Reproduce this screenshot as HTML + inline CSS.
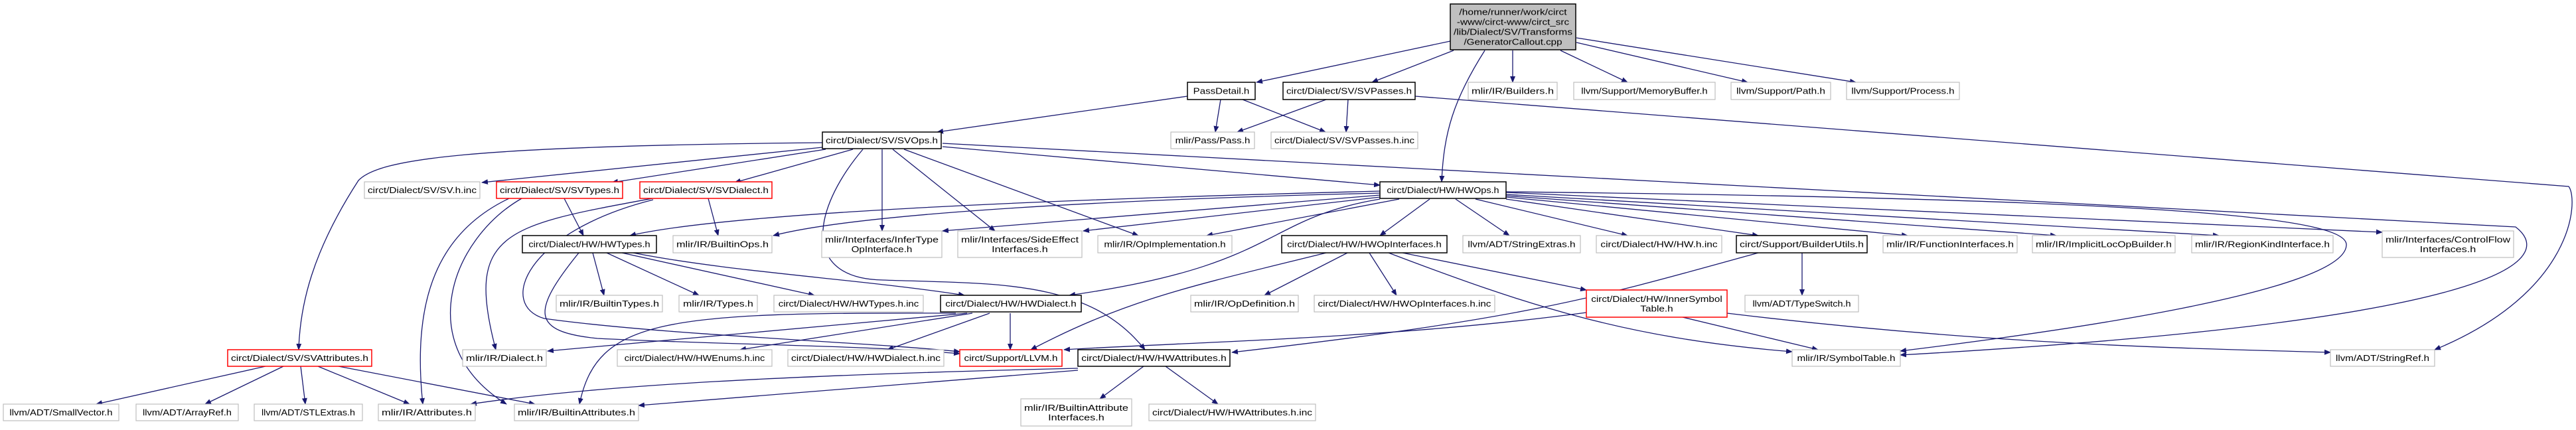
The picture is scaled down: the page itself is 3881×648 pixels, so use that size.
<!DOCTYPE html>
<html><head><meta charset="utf-8"><style>
html,body{margin:0;padding:0;background:#fff;}
svg{display:block;}
text{font-family:"Liberation Sans",sans-serif;font-size:13px;fill:#000;}
</style></head><body>
<svg id="g" width="3881" height="648" viewBox="0 0 3881 648" xmlns="http://www.w3.org/2000/svg">
<defs><marker id="ah" markerWidth="10" markerHeight="8" refX="9" refY="4" orient="auto" markerUnits="userSpaceOnUse"><path d="M0,0 L10,4 L0,8 Z" fill="#191970"/></marker></defs>
<g id="edges"></g>
<g id="nodes"></g>
</svg>
<script>
// nodes: id, label lines, x1, x2, y1, y2, style
const nodes = [
["root",["/home/runner/work/circt","-www/circt-www/circt_src","/lib/Dialect/SV/Transforms","/GeneratorCallout.cpp"],2185,2374,6,75,"root"],
["passdetail",["PassDetail.h"],1789,1891,124,150,"doc"],
["svpasses",["circt/Dialect/SV/SVPasses.h"],1933,2132,124,150,"doc"],
["builders",["mlir/IR/Builders.h"],2212,2346,124,150,"leaf"],
["memorybuffer",["llvm/Support/MemoryBuffer.h"],2371,2584,124,150,"leaf"],
["path",["llvm/Support/Path.h"],2608,2758,124,150,"leaf"],
["process",["llvm/Support/Process.h"],2782,2952,124,150,"leaf"],
["svops",["circt/Dialect/SV/SVOps.h"],1239,1418,199,224,"doc"],
["pass",["mlir/Pass/Pass.h"],1764,1890,199,224,"leaf"],
["svpassesinc",["circt/Dialect/SV/SVPasses.h.inc"],1915,2136,199,224,"leaf"],
["svhinc",["circt/Dialect/SV/SV.h.inc"],549,723,274,299,"leaf"],
["svtypes",["circt/Dialect/SV/SVTypes.h"],748,938,274,299,"red"],
["svdialect",["circt/Dialect/SV/SVDialect.h"],964,1163,274,299,"red"],
["hwops",["circt/Dialect/HW/HWOps.h"],2079,2269,274,299,"doc"],
["hwtypes",["circt/Dialect/HW/HWTypes.h"],787,989,355,381,"doc"],
["builtinops",["mlir/IR/BuiltinOps.h"],1014,1163,355,381,"leaf"],
["infertype",["mlir/Interfaces/InferType","OpInterface.h"],1238,1419,348,388,"leaf"],
["sideeffect",["mlir/Interfaces/SideEffect","Interfaces.h"],1443,1630,348,388,"leaf"],
["opimpl",["mlir/IR/OpImplementation.h"],1654,1856,355,381,"leaf"],
["hwopinterfaces",["circt/Dialect/HW/HWOpInterfaces.h"],1931,2180,355,381,"doc"],
["stringextras",["llvm/ADT/StringExtras.h"],2204,2381,355,381,"leaf"],
["hwhinc",["circt/Dialect/HW/HW.h.inc"],2405,2594,355,381,"leaf"],
["builderutils",["circt/Support/BuilderUtils.h"],2616,2813,355,381,"doc"],
["funcinterfaces",["mlir/IR/FunctionInterfaces.h"],2837,3039,355,381,"leaf"],
["implicitloc",["mlir/IR/ImplicitLocOpBuilder.h"],3062,3277,355,381,"leaf"],
["regionkind",["mlir/IR/RegionKindInterface.h"],3302,3515,355,381,"leaf"],
["controlflow",["mlir/Interfaces/ControlFlow","Interfaces.h"],3589,3787,348,388,"leaf"],
["builtintypes",["mlir/IR/BuiltinTypes.h"],838,998,445,470,"leaf"],
["types",["mlir/IR/Types.h"],1023,1141,445,470,"leaf"],
["hwtypesinc",["circt/Dialect/HW/HWTypes.h.inc"],1166,1391,445,470,"leaf"],
["hwdialect",["circt/Dialect/HW/HWDialect.h"],1417,1629,445,470,"doc"],
["opdefinition",["mlir/IR/OpDefinition.h"],1794,1956,445,470,"leaf"],
["hwopinterfacesinc",["circt/Dialect/HW/HWOpInterfaces.h.inc"],1980,2252,445,470,"leaf"],
["innersymbol",["circt/Dialect/HW/InnerSymbol","Table.h"],2390,2602,437,478,"red"],
["typeswitch",["llvm/ADT/TypeSwitch.h"],2629,2800,445,470,"leaf"],
["svattributes",["circt/Dialect/SV/SVAttributes.h"],343,560,527,552,"red"],
["dialect",["mlir/IR/Dialect.h"],697,823,527,552,"leaf"],
["hwenumsinc",["circt/Dialect/HW/HWEnums.h.inc"],930,1163,527,552,"leaf"],
["hwdialectinc",["circt/Dialect/HW/HWDialect.h.inc"],1187,1422,527,552,"leaf"],
["llvm",["circt/Support/LLVM.h"],1446,1600,527,552,"red"],
["hwattributes",["circt/Dialect/HW/HWAttributes.h"],1624,1853,527,552,"doc"],
["symboltable",["mlir/IR/SymbolTable.h"],2700,2863,527,552,"leaf"],
["stringref",["llvm/ADT/StringRef.h"],3511,3668,527,552,"leaf"],
["smallvector",["llvm/ADT/SmallVector.h"],5,179,609,634,"leaf"],
["arrayref",["llvm/ADT/ArrayRef.h"],205,359,609,634,"leaf"],
["stlextras",["llvm/ADT/STLExtras.h"],383,546,609,634,"leaf"],
["attributes",["mlir/IR/Attributes.h"],570,716,609,634,"leaf"],
["builtinattributes",["mlir/IR/BuiltinAttributes.h"],775,962,609,634,"leaf"],
["builtinattrinterfaces",["mlir/IR/BuiltinAttribute","Interfaces.h"],1538,1705,601,642,"leaf"],
["hwattributesinc",["circt/Dialect/HW/HWAttributes.h.inc"],1731,1982,609,634,"leaf"]
];
const edges = [
["root-passdetail","M2185,62 L1893,124"],
["root-svpasses","M2190,76 L2067,124"],
["root-hwops","M2237,76 C2190,150 2175,200 2172,274"],
["root-builders","M2279,76 L2279,124"],
["root-memorybuffer","M2351,76 L2452,124"],
["root-path","M2375,64 L2633,124"],
["root-process","M2375,57 L2796,124"],
["svpasses-stringref","M2132,145 L3870,281 C3885,300 3880,440 3668,527"],
["passdetail-svops","M1789,145 L1412,199"],
["passdetail-pass","M1839,150 L1831,199"],
["passdetail-svpassesinc","M1872,150 L1997,199"],
["svpasses-pass","M1998,150 L1864,199"],
["svpasses-svpassesinc","M2031,150 L2028,199"],
["svops-svattributes","M1239,215 C700,220 570,240 540,272 C470,380 452,460 450,527"],
["svops-svhinc","M1239,222 L726,275"],
["svops-svtypes","M1244,225 L922,275"],
["svops-svdialect","M1285,225 L1107,275"],
["svops-hwattributes","M1300,225 C1220,320 1210,420 1330,422 C1500,428 1640,420 1725,527"],
["svops-infertype","M1329,225 L1329,348"],
["svops-sideeffect","M1345,225 L1499,348"],
["svops-opimpl","M1362,225 L1715,355"],
["svops-hwops","M1420,221 L2079,279"],
["svops-symboltable","M1420,216 L3790,342 C3840,380 3840,480 2863,535"],
["hwops-hwtypes","M2079,288 C1600,300 1100,320 949,355"],
["hwops-builtinops","M2079,291 C1700,300 1300,320 1165,355"],
["hwops-infertype","M2079,294 L1420,348"],
["hwops-sideeffect","M2079,297 L1632,348"],
["hwops-opimpl","M2108,300 L1818,355"],
["hwops-hwdialect","M2079,300 C1900,330 1930,400 1611,445"],
["hwops-hwopinterfaces","M2154,300 L2079,355"],
["hwops-stringextras","M2193,300 L2274,355"],
["hwops-hwhinc","M2223,300 L2452,355"],
["hwops-builderutils","M2269,300 L2649,355"],
["hwops-funcinterfaces","M2269,297 L2874,355"],
["hwops-implicitloc","M2269,295 L3098,355"],
["hwops-regionkind","M2269,293 L3343,355"],
["hwops-controlflow","M2269,290 L3589,350"],
["hwops-symboltable","M2269,289 C3300,300 3540,330 3535,370 C3530,440 3100,500 2863,529"],
["hwtypes-builtintypes","M893,381 L910,445"],
["hwtypes-types","M914,381 L1053,445"],
["hwtypes-hwtypesinc","M937,381 L1227,445"],
["hwtypes-hwdialect","M954,381 C1100,410 1300,421 1453,445"],
["hwtypes-llvm","M872,381 C800,470 800,500 900,510 C1100,520 1300,520 1446,533"],
["svtypes-hwtypes","M850,299 L879,355"],
["svtypes-attributes","M767,299 C660,350 620,450 637,609"],
["svtypes-builtinattributes","M786,299 C680,360 620,520 763,609"],
["svdialect-builtinops","M1067,299 L1082,355"],
["svdialect-dialect","M983,299 C760,340 700,350 747,527"],
["svdialect-llvm","M984,301 C790,350 750,460 820,480 C1000,505 1300,515 1446,530"],
["hwdialect-dialect","M1457,472 L825,529"],
["hwdialect-hwenumsinc","M1465,472 L1115,527"],
["hwdialect-hwdialectinc","M1491,472 L1337,527"],
["hwdialect-llvm","M1522,472 L1522,527"],
["hwdialect-builtinattributes","M1440,472 C1000,470 900,480 873,609"],
["hwattributes-attributes","M1624,555 C1200,565 900,580 709,609"],
["hwattributes-builtinattributes","M1624,558 L962,611"],
["hwattributes-builtinattrinterfaces","M1723,552 L1657,601"],
["hwattributes-hwattributesinc","M1756,552 L1835,609"],
["hwopinterfaces-llvm","M1998,381 C1800,430 1700,450 1553,527"],
["hwopinterfaces-opdefinition","M2030,381 L1905,445"],
["hwopinterfaces-hwopinterfacesinc","M2063,381 L2104,445"],
["hwopinterfaces-innersymbol","M2113,381 L2390,437"],
["hwopinterfaces-symboltable","M2092,381 C2300,460 2450,510 2700,530"],
["innersymbol-llvm","M2390,471 C2100,510 1800,515 1603,527"],
["innersymbol-symboltable","M2535,478 L2739,527"],
["innersymbol-stringref","M2602,472 C3000,520 3300,525 3511,531"],
["builderutils-typeswitch","M2715,381 L2715,445"],
["builderutils-llvm","M2649,381 C2400,450 2300,480 1856,531"],
["svattributes-smallvector","M400,552 L145,609"],
["svattributes-arrayref","M427,552 L309,609"],
["svattributes-stlextras","M453,552 L460,609"],
["svattributes-attributes","M479,552 L617,609"],
["svattributes-builtinattributes","M510,552 L806,609"]
];
const NS="http://www.w3.org/2000/svg";
const eg=document.getElementById("edges"), ng=document.getElementById("nodes");
for(const e of edges){
  const p=document.createElementNS(NS,"path");
  p.setAttribute("d",e[1]);
  p.setAttribute("fill","none");
  p.setAttribute("stroke","#191970");
  p.setAttribute("stroke-width","1.3");
  p.setAttribute("marker-end","url(#ah)");
  
  
  eg.appendChild(p);
}
const styles={root:["#bfbfbf","#000"],doc:["#fff","#000"],leaf:["#fff","#bfbfbf"],red:["#fff","#ff0000"]};
for(const n of nodes){
  const [id,lines,x1,x2,y1,y2,st]=n;
  const g=document.createElementNS(NS,"g");
  
  
  const r=document.createElementNS(NS,"rect");
  r.setAttribute("x",x1);r.setAttribute("y",y1);
  r.setAttribute("width",x2-x1);r.setAttribute("height",y2-y1);
  r.setAttribute("fill",styles[st][0]);r.setAttribute("stroke",styles[st][1]);
  r.setAttribute("stroke-width",st==="leaf"?"1.2":"1.5");
  g.appendChild(r);
  const cx=(x1+x2)/2, cy=(y1+y2)/2, lh=(st==="root")?15:14.5;
  lines.forEach((t,i)=>{
    const tx=document.createElementNS(NS,"text");
    tx.setAttribute("x",cx);
    tx.setAttribute("y",cy+(i-(lines.length-1)/2)*lh+4.5);
    tx.setAttribute("text-anchor","middle");
    tx.setAttribute("textLength",Math.min(t.length*7.05,x2-x1-10));
    tx.setAttribute("lengthAdjust","spacingAndGlyphs");
    
    
    tx.textContent=t;
    g.appendChild(tx);
  });
  ng.appendChild(g);
}
</script>
</body></html>
